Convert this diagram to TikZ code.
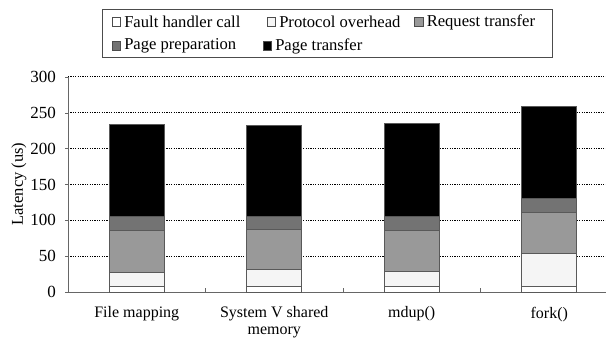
\documentclass[tikz,border=0pt]{standalone}
\usepackage{fontspec}
\setmainfont{Liberation Serif}
\usetikzlibrary{positioning}

\definecolor{cFault}{gray}{1}
\definecolor{cProto}{gray}{0.96}
\definecolor{cReq}{gray}{0.6}
\definecolor{cPrep}{gray}{0.45}
\definecolor{cPage}{gray}{0}

\begin{document}
\begin{tikzpicture}[
    x=1pt, y=1pt,
    seg/.style={draw=black!65, line width=0.7pt},
    gridline/.style={dash pattern=on 1.2pt off 1.2pt, line width=1pt},
    ticklbl/.style={font=\fontsize{17}{18}\selectfont, anchor=east, inner sep=0pt},
    catlbl/.style={font=\fontsize{16}{16.5}\selectfont, align=center,
                   anchor=north, inner sep=0pt},
    key/.style={draw=black!70, line width=0.6pt, minimum size=8.5pt, inner sep=0pt},
    keylbl/.style={font=\fontsize{16.6}{18}\selectfont, inner sep=0pt}
  ]
  \useasboundingbox (0,0) rectangle (606,340);

  % legend
  \draw[black!70, line width=0.8pt, fill=white] (102,283) rectangle (552,331);
  \node[key, fill=cFault] (kFault) at (116.5,318) {};
  \node[keylbl, right=3pt of kFault] (lFault) {Fault handler call};
  \node[key, fill=cProto] (kProto) at (271.5,318) {};
  \node[keylbl, right=3pt of kProto] (lProto) {Protocol overhead};
  \node[key, fill=cReq] (kReq) at (419,318) {};
  \node[keylbl, right=3pt of kReq] (lReq) {Request transfer};
  \node[key, fill=cPrep] (kPrep) at (116.5,294) {};
  \node[keylbl, right=3pt of kPrep] (lPrep) {Page preparation};
  \node[key, fill=cPage] (kPage) at (267.5,294) {};
  \node[keylbl, right=3pt of kPage] (lPage) {Page transfer};

  \node[keylbl, font=\fontsize{16.5}{17}\selectfont, rotate=90] (ylbl) at (19,156) {Latency (us)};

  \begin{scope}[shift={(68,48)}, y=0.7167pt]
    % grid and axes
    \foreach \v in {50,100,...,300}
      \draw[gridline] (0,\v) -- (538,\v);
    \draw[black!60, line width=0.8pt] (0,300) -- (0,0) -- (538,0);
    \foreach \v in {0,50,...,300} {
      \draw[black!60, line width=0.6pt] (-3,\v) -- (0,\v);
      \node[ticklbl] (y\v) at (-12,\v) {\v};
    }
    \foreach \t in {137.5,275,412.5}
      \draw[black!60, line width=0.6pt] (\t,0) -- (\t,5);

    % stacked bars
    \foreach \a/\b/\c/\d/\e [count=\i from 0] in
        {8/28/86/105/234, 8/31/87/105/233, 8/29/86/106/235, 8/54/111/130/259} {
      \pgfmathsetmacro{\xl}{41.25+137.5*\i}
      \pgfmathsetmacro{\xr}{\xl+55}
      \filldraw[seg, fill=cFault] (\xl,0)  rectangle (\xr,\a);
      \filldraw[seg, fill=cProto] (\xl,\a) rectangle (\xr,\b);
      \filldraw[seg, fill=cReq]   (\xl,\b) rectangle (\xr,\c);
      \filldraw[seg, fill=cPrep]  (\xl,\c) rectangle (\xr,\d);
      \filldraw[seg, fill=cPage]  (\xl,\d) rectangle (\xr,\e);
    }

    \foreach \lbl [count=\i from 0] in
        {File mapping, {System V shared\\memory}, mdup(), fork()}
      \node[catlbl] (cat\i) at (68.75+137.5*\i,-20.5) {\lbl};
  \end{scope}
\end{tikzpicture}
\end{document}
